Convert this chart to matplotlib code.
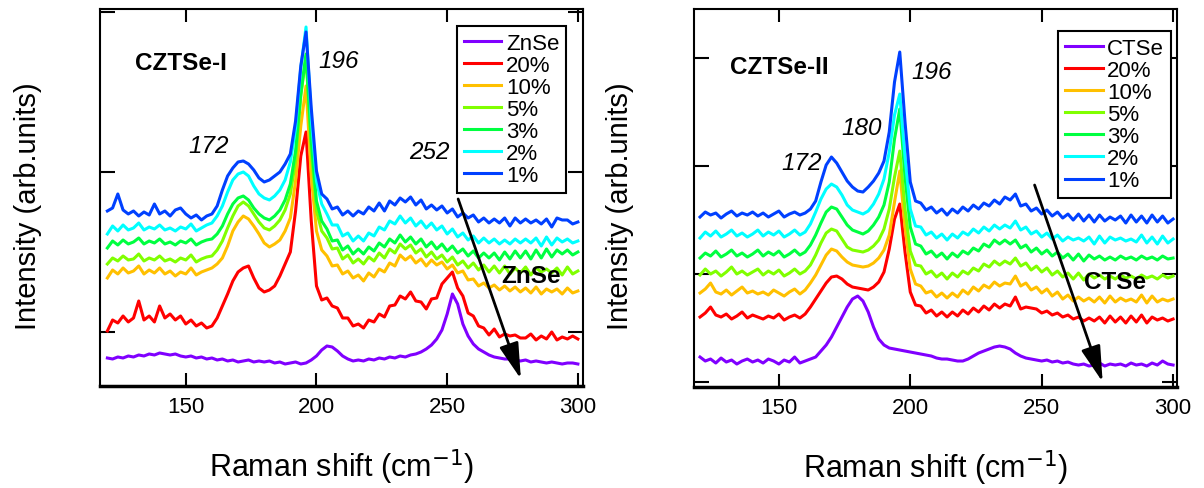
import numpy as np
import matplotlib
matplotlib.use("Agg")
import matplotlib.pyplot as plt

plt.rcParams["font.family"] = ["Liberation Sans", "DejaVu Sans"]

# ===========================
# DATA  (stacked Raman spectra, arb. units)
# ===========================
shift = np.arange(120, 301, 2)   # Raman shift, cm^-1

labels_1 = ["ZnSe", "20%", "10%", "5%", "3%", "2%", "1%"]
labels_2 = ["CTSe", "20%", "10%", "5%", "3%", "2%", "1%"]
colors = ["#8000ff", "#ff0000", "#ffc000", "#80ff00", "#00ff40", "#00ffff", "#0040ff"]

# ---- CZTSe-I ----
znse = [28, 27, 29, 28, 30, 29, 31, 30, 32, 31,
        33, 32, 31, 32, 30, 29, 30, 28, 29, 27,
        28, 26, 27, 25, 26, 24, 25, 26, 24, 25,
        24, 25, 23, 24, 22, 23, 24, 22, 23, 26,
        30, 36, 40, 39, 35, 30, 27, 25, 26, 25,
        27, 26, 28, 27, 29, 28, 30, 29, 31, 32,
        34, 37, 41, 47, 56, 72, 92, 82, 62, 50,
        42, 37, 34, 31, 29, 28, 27, 27, 26, 25,
        26, 24, 25, 24, 23, 24, 23, 22, 23, 23,
        22]
i_20 = [55, 66, 63, 70, 64, 68, 85, 66, 70, 64,
        80, 68, 72, 66, 70, 62, 66, 60, 63, 58,
        60, 68, 80, 92, 105, 114, 118, 120, 108, 98,
        94, 96, 100, 110, 122, 134, 175, 230, 254, 165,
        100, 86, 88, 80, 78, 68, 68, 60, 62, 58,
        66, 64, 72, 69, 80, 81, 90, 87, 94, 85,
        84, 77, 87, 88, 102, 108, 114, 98, 90, 73,
        70, 60, 58, 51, 57, 49, 52, 50, 51, 48,
        48, 52, 46, 50, 47, 54, 46, 49, 47, 50,
        47]
i_10 = [108, 116, 112, 118, 113, 115, 120, 112, 116, 113,
        118, 112, 115, 110, 114, 112, 118, 111, 114, 116,
        118, 122, 128, 140, 155, 164, 170, 167, 160, 152,
        143, 139, 142, 146, 155, 168, 205, 260, 300, 210,
        155, 136, 130, 120, 121, 112, 115, 108, 111, 105,
        113, 109, 117, 114, 123, 120, 131, 126, 130, 123,
        127, 120, 126, 121, 124, 117, 121, 113, 115, 106,
        107, 100, 103, 98, 101, 96, 100, 95, 99, 94,
        98, 93, 99, 92, 97, 94, 97, 92, 98, 93,
        95]
i_5 = [122, 128, 125, 130, 126, 127, 132, 125, 128, 126,
       130, 125, 127, 124, 128, 126, 131, 124, 127, 129,
       130, 136, 145, 158, 170, 180, 184, 180, 172, 164,
       158, 156, 160, 166, 176, 192, 225, 290, 330, 235,
       175, 155, 148, 137, 138, 127, 131, 123, 127, 122,
       129, 125, 133, 128, 137, 133, 142, 137, 141, 133,
       137, 129, 134, 127, 131, 124, 129, 121, 125, 118,
       123, 116, 121, 114, 120, 113, 120, 112, 118, 113,
       119, 111, 118, 114, 117, 113, 118, 111, 119, 112,
       115]
i_3 = [138, 145, 141, 146, 142, 144, 148, 142, 145, 143,
       147, 142, 144, 141, 145, 143, 147, 141, 144, 146,
       147, 152, 160, 172, 182, 188, 190, 186, 178, 172,
       168, 166, 170, 176, 186, 202, 235, 292, 332, 245,
       185, 165, 157, 145, 146, 136, 140, 132, 137, 132,
       139, 135, 143, 139, 147, 143, 151, 144, 149, 142,
       147, 139, 144, 137, 142, 135, 140, 133, 137, 130,
       135, 128, 133, 128, 133, 126, 134, 127, 135, 128,
       135, 127, 136, 128, 137, 129, 136, 132, 136, 131,
       134]
i_2 = [152, 160, 155, 161, 156, 158, 163, 156, 159, 157,
       161, 156, 158, 155, 159, 157, 162, 155, 158, 161,
       163, 170, 180, 194, 206, 212, 214, 210, 200, 192,
       188, 186, 190, 196, 206, 224, 258, 318, 359, 268,
       205, 182, 172, 161, 161, 150, 153, 145, 150, 145,
       153, 150, 159, 156, 165, 162, 170, 163, 168, 160,
       165, 158, 163, 156, 160, 152, 157, 149, 153, 146,
       150, 143, 148, 143, 147, 142, 146, 142, 147, 143,
       147, 143, 148, 140, 149, 141, 148, 144, 147, 143,
       145]
i_1 = [175, 178, 192, 176, 172, 175, 170, 174, 171, 182,
       172, 175, 170, 176, 178, 172, 168, 171, 166, 170,
       172, 180, 196, 210, 218, 224, 225, 222, 216, 208,
       204, 206, 210, 214, 222, 232, 265, 320, 354, 278,
       215, 192, 187, 177, 179, 171, 175, 170, 175, 172,
       179, 175, 183, 175, 185, 181, 188, 184, 189, 181,
       186, 177, 181, 176, 180, 173, 177, 169, 173, 168,
       171, 164, 168, 163, 167, 163, 168, 160, 168, 163,
       167, 163, 166, 162, 167, 159, 168, 166, 166, 162,
       164]

# ---- CZTSe-II ----
ctse = [30, 26, 28, 24, 29, 25, 27, 23, 26, 28,
        25, 27, 24, 28, 26, 23, 27, 25, 30, 24,
        26, 28, 30, 36, 42, 50, 60, 70, 80, 88,
        91, 86, 75, 60, 48, 42, 39, 38, 37, 36,
        35, 34, 33, 32, 31, 29, 28, 28, 27, 26,
        26, 28, 31, 34, 36, 38, 40, 41, 40, 38,
        34, 31, 29, 28, 27, 26, 27, 25, 26, 24,
        25, 23, 22, 23, 21, 22, 24, 21, 23, 22,
        23, 21, 24, 22, 23, 21, 24, 22, 26, 23,
        22]
ii_20 = [70, 74, 80, 72, 70, 73, 68, 71, 75, 69,
         72, 70, 68, 71, 69, 73, 67, 70, 72, 69,
         73, 80, 88, 96, 104, 110, 111, 108, 103, 100,
         99, 98, 97, 100, 105, 115, 138, 168, 183, 135,
         95, 82, 81, 74, 77, 71, 75, 70, 75, 71,
         77, 73, 79, 75, 81, 77, 83, 79, 83, 81,
         90, 78, 80, 79, 78, 74, 76, 72, 74, 70,
         72, 68, 70, 66, 69, 66, 70, 64, 71, 65,
         70, 64, 71, 65, 72, 64, 70, 67, 69, 66,
         68]
ii_10 = [94, 98, 104, 95, 93, 97, 92, 96, 100, 94,
         96, 93, 95, 92, 97, 94, 91, 95, 98, 93,
         97, 104, 112, 122, 132, 138, 136, 130, 125, 122,
         121, 120, 121, 124, 129, 137, 152, 185, 216, 160,
         118, 103, 101, 94, 96, 90, 94, 89, 94, 90,
         97, 93, 100, 96, 102, 99, 105, 101, 104, 103,
         111, 101, 104, 97, 100, 94, 98, 91, 95, 88,
         92, 86, 90, 86, 89, 85, 90, 84, 91, 85,
         89, 86, 88, 85, 92, 84, 91, 85, 88, 86,
         88]
ii_5 = [112, 118, 113, 116, 111, 115, 120, 113, 116, 112,
        115, 118, 112, 116, 113, 117, 111, 114, 118, 113,
        116, 122, 132, 144, 154, 158, 156, 148, 140, 137,
        136, 135, 137, 141, 147, 158, 178, 210, 236, 178,
        136, 122, 121, 113, 116, 110, 114, 108, 114, 110,
        116, 113, 119, 116, 123, 120, 126, 122, 126, 123,
        129, 121, 124, 117, 121, 115, 119, 112, 116, 110,
        114, 108, 114, 107, 113, 109, 112, 108, 111, 108,
        112, 109, 111, 108, 112, 109, 111, 108, 112, 109,
        111]
ii_3 = [129, 134, 131, 136, 130, 133, 137, 131, 134, 130,
        133, 137, 131, 135, 132, 136, 130, 133, 137, 132,
        135, 142, 152, 164, 175, 180, 178, 170, 162, 157,
        155, 153, 156, 162, 170, 182, 205, 248, 278, 210,
        160, 143, 141, 133, 136, 130, 134, 128, 134, 130,
        136, 133, 139, 136, 143, 140, 147, 143, 147, 143,
        147, 139, 142, 135, 139, 133, 137, 131, 135, 129,
        133, 127, 133, 126, 132, 128, 131, 127, 130, 127,
        131, 128, 130, 127, 131, 128, 130, 127, 131, 128,
        129]
ii_2 = [149, 155, 151, 156, 150, 153, 157, 151, 154, 150,
        153, 157, 151, 155, 152, 156, 150, 153, 157, 152,
        155, 163, 175, 188, 198, 203, 200, 192, 182, 177,
        175, 173, 176, 183, 193, 208, 235, 272, 293, 230,
        178, 161, 160, 152, 155, 149, 153, 147, 153, 149,
        155, 152, 158, 154, 160, 156, 162, 158, 162, 159,
        166, 157, 160, 153, 156, 150, 154, 148, 152, 146,
        150, 147, 149, 146, 150, 143, 151, 144, 150, 147,
        149, 146, 148, 145, 152, 144, 150, 143, 151, 144,
        148]
ii_1 = [170, 175, 172, 174, 169, 173, 176, 171, 174, 172,
        175, 171, 174, 170, 173, 176, 170, 173, 175, 172,
        174, 178, 186, 205, 222, 230, 224, 215, 206, 200,
        196, 195, 200, 206, 214, 226, 255, 305, 335, 265,
        205, 186, 184, 177, 180, 174, 178, 172, 178, 174,
        180, 176, 182, 178, 184, 181, 187, 183, 190, 187,
        193, 181, 183, 176, 179, 173, 177, 171, 175, 169,
        173, 167, 173, 166, 172, 165, 172, 166, 170, 167,
        171, 164, 172, 165, 171, 164, 172, 165, 171, 164,
        168]

spectra_1 = [znse, i_20, i_10, i_5, i_3, i_2, i_1]
spectra_2 = [ctse, ii_20, ii_10, ii_5, ii_3, ii_2, ii_1]

# ===========================
# FIGURE
# ===========================
fig = plt.figure(figsize=(12.04, 4.89), dpi=100)
ax1 = fig.add_axes([0.0831, 0.2086, 0.4012, 0.771])
ax2 = fig.add_axes([0.5764, 0.2065, 0.4012, 0.773])


def style_axis(ax, xlim, ylim, yticks):
    ax.set_xlim(*xlim)
    ax.set_ylim(*ylim)
    ax.set_xticks([150, 200, 250, 300])
    ax.set_yticks(yticks)
    ax.set_yticklabels([])
    ax.tick_params(axis="x", direction="in", length=9.5, width=1.5,
                   top=True, labelsize=16, pad=7)
    ax.tick_params(axis="y", direction="in", length=11, width=1.5,
                   right=True)
    for s in ax.spines.values():
        s.set_linewidth(1.5)
    ax.spines["bottom"].set_linewidth(2.5)
    ax.set_xlabel("Raman shift (cm$^{-1}$)", fontsize=22)
    ax.xaxis.set_label_coords(0.5, -0.16)
    ax.set_ylabel("Intensity (arb.units)", fontsize=21)


for ax, spectra, labels in [(ax1, spectra_1, labels_1), (ax2, spectra_2, labels_2)]:
    for ys, c, lab in zip(spectra, colors, labels):
        ax.plot(shift, ys, color=c, lw=2.2, label=lab)
    leg_anchor = (0.739, 0.955) if ax is ax1 else (0.754, 0.942)
    leg = ax.legend(loc="upper left", bbox_to_anchor=leg_anchor, fontsize=16,
                    handlelength=1.7, handletextpad=0.2, labelspacing=0.05,
                    borderpad=0.3, fancybox=False, framealpha=1,
                    edgecolor="black", borderaxespad=0)
    leg.get_frame().set_linewidth(1.5)

style_axis(ax1, (117.2, 302), (0, 377), [54, 214, 374])
style_axis(ax2, (117.7, 301.5), (0, 378), [5, 113, 221, 329])
ax1.yaxis.set_label_coords(-0.12, 0.48)
ax2.yaxis.set_label_coords(-0.125, 0.48)

# annotations
ann = dict(fontsize=17.5, ha="center", va="center")
ax1.text(148.1, 323, "CZTSe-I", fontweight="bold", **ann)
ax1.text(208.4, 325, "196", style="italic", **ann)
ax1.text(158.8, 240, "172", style="italic", **ann)
ax1.text(243.1, 234, "252", style="italic", **ann)
ax1.text(282.1, 110, "ZnSe", fontweight="bold", **ann)

ax2.text(150.0, 321, "CZTSe-II", fontweight="bold", **ann)
ax2.text(208.2, 316, "196", style="italic", **ann)
ax2.text(181.6, 260, "180", style="italic", **ann)
ax2.text(158.7, 225, "172", style="italic", **ann)
ax2.text(278.1, 106, "CTSe", fontweight="bold", **ann)

arrow = dict(arrowstyle="-|>,head_length=1.1,head_width=0.3", lw=2,
             color="black", shrinkA=0, shrinkB=0, mutation_scale=20)
ax1.annotate("", xy=(278.2, 7), xytext=(254.2, 187), arrowprops=arrow)
ax2.annotate("", xy=(273.2, 5), xytext=(247.3, 202), arrowprops=arrow)

fig.savefig("out.png", dpi=100)
